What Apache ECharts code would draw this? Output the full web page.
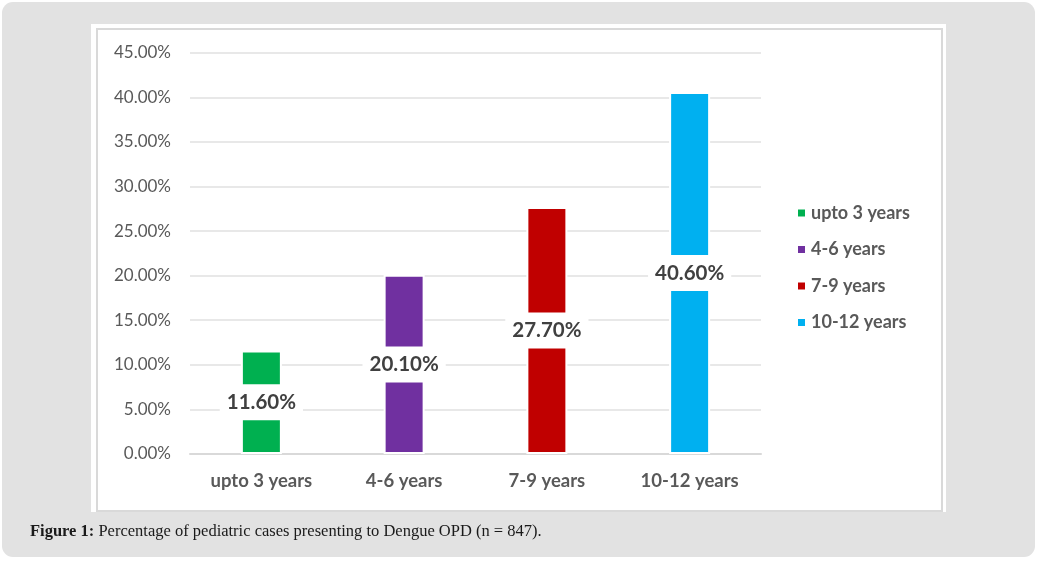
<!DOCTYPE html>
<html>
<head>
<meta charset="utf-8">
<script src="https://cdn.jsdelivr.net/npm/echarts@6/dist/echarts.min.js"></script>
<style>
  html, body { margin: 0; padding: 0; background: #ffffff; width: 1044px; height: 562px; overflow: hidden; }
  #outer { position: absolute; left: 2px; top: 2px; width: 1033px; height: 555px; background: #e2e2e2; border-radius: 11px; }
  #white { position: absolute; left: 91px; top: 24px; width: 855px; height: 488px; background: #ffffff; }
  #frame { position: absolute; left: 96px; top: 28px; width: 843px; height: 480px; border: 2px solid #d9d9d9; }
  #chart { position: absolute; left: 0; top: 0; width: 1044px; height: 562px; }
  #caption { position: absolute; left: 30px; top: 521px; font-family: "Liberation Serif", "DejaVu Serif", serif; font-size: 16.5px; color: #1a1a1a; white-space: nowrap; }
</style>
</head>
<body>
<div id="outer"></div>
<div id="white"></div>
<div id="frame"></div>
<div id="chart"></div>
<div id="caption"><b>Figure 1:</b> Percentage of pediatric cases presenting to Dengue OPD (n = 847).</div>
<script>
const categories = ["upto 3 years", "4-6 years", "7-9 years", "10-12 years"];
const values = [0.116, 0.201, 0.277, 0.406];
const colors = ["#00b050", "#7030a0", "#c00000", "#00b0f0"];
const yTicks = { min: 0, max: 0.45, interval: 0.05 };

const FONT = "Lato, 'Open Sans', sans-serif";
const chart = echarts.init(document.getElementById('chart'), null, { renderer: 'canvas' });

const series = categories.map((name, i) => ({
  name: name,
  type: 'bar',
  stack: 'all',
  barWidth: 41,
  data: categories.map((c, j) => (j === i ? values[i] : '-')),
  itemStyle: { color: colors[i], borderColor: '#ffffff', borderWidth: 2 },
  label: {
    show: true,
    position: 'inside',
    formatter: p => (p.value * 100).toFixed(2) + '%',
    backgroundColor: '#ffffff',
    padding: [8, 7, 7, 7],
    fontFamily: FONT,
    fontWeight: 'bold',
    fontSize: 20.5,
    color: '#404040'
  },
  emphasis: { disabled: true }
}));

chart.setOption({
  backgroundColor: 'transparent',
  animation: false,
  grid: { left: 190, right: 283, top: 52.7, bottom: 108, containLabel: false },
  legend: {
    orient: 'vertical',
    left: 791,
    top: 198,
    itemWidth: 9,
    itemHeight: 9,
    itemGap: 16.5,
    icon: 'rect',
    data: categories,
    textStyle: { fontFamily: FONT, fontWeight: 'bold', fontSize: 18, color: '#595959', lineHeight: 20 }
  },
  xAxis: {
    type: 'category',
    data: categories,
    axisLine: { lineStyle: { color: '#d9d9d9', width: 2 } },
    axisTick: { show: false },
    axisLabel: { margin: 18, fontFamily: FONT, fontWeight: 'bold', fontSize: 18.5, color: '#595959' }
  },
  yAxis: {
    type: 'value',
    min: yTicks.min,
    max: yTicks.max,
    interval: yTicks.interval,
    axisLine: { show: false },
    axisTick: { show: false },
    splitLine: { lineStyle: { color: '#e0e0e0', width: 1.5 } },
    axisLabel: { margin: 19, fontFamily: FONT, fontSize: 17, color: '#595959', formatter: v => (v * 100).toFixed(2) + '%' }
  },
  series: series
});
</script>
</body>
</html>
